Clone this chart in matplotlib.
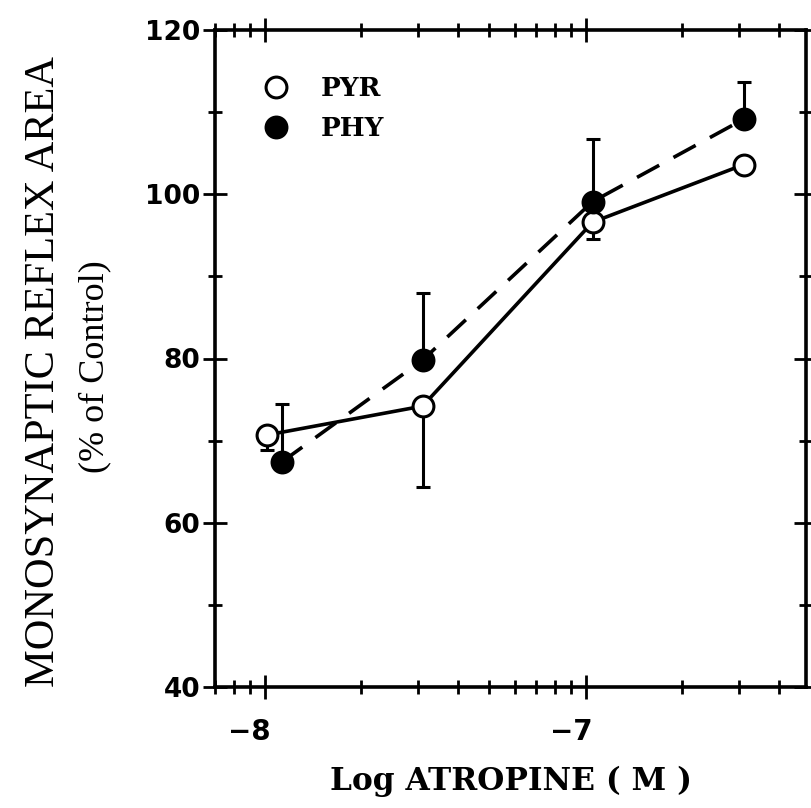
import matplotlib
matplotlib.use('Agg')
import matplotlib.pyplot as plt
from matplotlib.lines import Line2D
from matplotlib.ticker import FixedLocator, FuncFormatter, NullFormatter
from matplotlib.transforms import ScaledTranslation
import numpy as np

# atropine concentration (M) and reflex area (% of control)
pyr_x = [1.02e-8, 3.1e-8, 1.05e-7, 3.1e-7]
pyr_y = [70.7, 74.2, 96.6, 103.6]
pyr_err = [1.8, 9.8, 2.0, 0.0]   # drawn downward

phy_x = [1.13e-8, 3.1e-8, 1.05e-7, 3.12e-7]
phy_y = [67.4, 79.8, 99.1, 109.2]
phy_err = [7.0, 8.2, 7.6, 4.5]   # drawn upward

labels = ['PYR', 'PHY']

fig = plt.figure(figsize=(8.11, 8.08), dpi=100)
ax = fig.add_axes([215 / 811, 1 - 687 / 808, (806 - 215) / 811, (687 - 30) / 808])

lw = 2.6
ax.plot(pyr_x, pyr_y, '-', color='black', lw=lw, zorder=2)
ax.plot(phy_x, phy_y, '--', color='black', lw=lw, dashes=(7, 4.5), zorder=2)

zeros = [0] * len(pyr_err)
ax.errorbar(pyr_x, pyr_y, yerr=[pyr_err, zeros], fmt='none', ecolor='black',
            elinewidth=2.2, capsize=5, capthick=2.2, zorder=3)
ax.errorbar(phy_x, phy_y, yerr=[zeros, phy_err], fmt='none', ecolor='black',
            elinewidth=2.2, capsize=5, capthick=2.2, zorder=3)

ax.plot(pyr_x, pyr_y, 'o', ms=15, mfc='white', mec='black', mew=2.2, zorder=4)
ax.plot(phy_x, phy_y, 'o', ms=15, mfc='black', mec='black', mew=2.2, zorder=4)

ax.set_xscale('log')
ax.set_xlim(7e-9, 4.85e-7)
ax.set_ylim(40, 120)

ax.xaxis.set_major_locator(FixedLocator([1e-8, 1e-7]))
ax.xaxis.set_major_formatter(FuncFormatter(lambda v, p: '\u2212%d' % abs(round(np.log10(v)))))
minors = [m * 10.0 ** e for e in (-9, -8, -7) for m in range(2, 10)]
ax.xaxis.set_minor_locator(FixedLocator(minors))
ax.xaxis.set_minor_formatter(NullFormatter())
ax.yaxis.set_major_locator(FixedLocator([40, 60, 80, 100, 120]))
ax.yaxis.set_minor_locator(FixedLocator(range(50, 120, 20)))

for s in ax.spines.values():
    s.set_linewidth(2.6)

ax.tick_params(which='both', direction='inout', top=True, right=True, width=2, color='black')
ax.tick_params(which='major', length=17)
ax.tick_params(which='minor', length=10)
ax.tick_params(axis='x', which='major', pad=14, labelsize=20)
ax.tick_params(axis='y', which='major', pad=2, labelsize=19)
shift = ScaledTranslation(-15 / 100, 0, fig.dpi_scale_trans)
for t in ax.get_xticklabels():
    t.set_transform(t.get_transform() + shift)
for t in ax.get_xticklabels() + ax.get_yticklabels():
    t.set_fontweight('bold')
    t.set_family('DejaVu Sans')

handles = [Line2D([], [], ls='none', marker='o', ms=15, mfc='white', mec='black', mew=2.2),
           Line2D([], [], ls='none', marker='o', ms=15, mfc='black', mec='black', mew=2.2)]
ax.legend(handles, labels, loc='upper left', bbox_to_anchor=(0.04, 0.966), frameon=False,
          handlelength=1.0, handletextpad=1.2, labelspacing=0.58,
          prop={'family': 'DejaVu Serif', 'weight': 'bold', 'size': 19})

ax.set_xlabel('Log ATROPINE ( M )', fontsize=22.5, fontweight='bold', family='DejaVu Serif', labelpad=14)

fig.text(44 / 811, 1 - 372 / 808, 'MONOSYNAPTIC REFLEX AREA', rotation=90, ha='center', va='center',
         fontsize=30.5, family='Liberation Serif')
fig.text(95 / 811, 1 - 367 / 808, '(% of Control)', rotation=90, ha='center', va='center',
         fontsize=26, family='Liberation Serif')

fig.savefig('out.png', dpi=100)
